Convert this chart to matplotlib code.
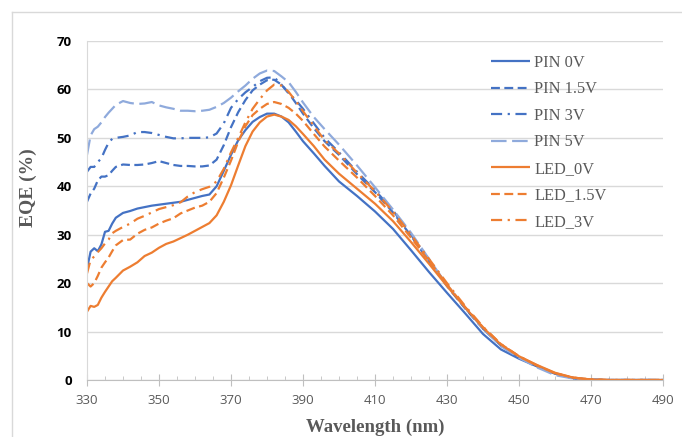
import matplotlib
matplotlib.use("Agg")
import matplotlib.pyplot as plt
from matplotlib.lines import Line2D

wavelength = [330, 331, 332, 333, 334, 335, 336, 337, 338, 340, 342, 344, 346, 348, 350,
              352, 354, 356, 358, 360, 362, 364, 366, 368, 370, 372, 374, 376, 378, 380,
              382, 384, 386, 388, 390, 393, 396, 400, 405, 410, 415, 420, 425, 430, 435,
              440, 445, 450, 455, 460, 465, 470, 475, 480, 490]

pin_0v = [23.0, 26.5, 27.2, 26.6, 28.0, 30.6, 30.8, 32.3, 33.5, 34.5, 34.9, 35.4, 35.7, 36.0, 36.2,
          36.4, 36.6, 36.8, 37.2, 37.6, 38.0, 38.3, 40.0, 43.2, 46.5, 49.5, 51.6, 53.3, 54.3, 55.0,
          55.0, 54.4, 53.2, 51.3, 49.3, 46.8, 44.2, 41.0, 38.0, 34.8, 31.2, 26.8, 22.3, 18.0, 13.8,
          9.5, 6.3, 4.4, 2.8, 1.3, 0.4, 0.05, 0, 0, 0]

pin_1_5v = [36.8, 38.5, 39.5, 41.2, 42.0, 42.0, 42.3, 43.2, 44.0, 44.5, 44.4, 44.4, 44.5, 44.8, 45.2,
            44.8, 44.4, 44.2, 44.2, 44.1, 44.1, 44.3, 45.5, 48.5, 52.2, 55.3, 57.8, 59.8, 61.0, 61.9,
            62.0, 61.0, 59.3, 57.2, 55.0, 52.0, 49.3, 46.5, 42.5, 38.8, 34.6, 29.8, 24.5, 19.4, 14.8,
            10.6, 7.1, 4.7, 2.9, 1.3, 0.4, 0.05, 0, 0, 0]

pin_3v = [43.0, 44.0, 44.0, 45.0, 45.8, 47.5, 49.0, 49.8, 50.0, 50.2, 50.5, 51.2, 51.2, 51.0, 50.6,
          50.2, 49.9, 49.9, 50.0, 50.0, 50.0, 50.1, 50.9, 53.0, 56.2, 58.0, 59.4, 60.5, 61.7, 62.4,
          62.5, 61.0, 59.2, 57.8, 56.0, 53.0, 50.0, 47.0, 43.0, 39.2, 35.0, 30.0, 24.8, 19.5, 14.9,
          10.6, 7.1, 4.7, 2.9, 1.3, 0.4, 0.05, 0, 0, 0]

pin_5v = [46.5, 50.5, 51.8, 52.3, 53.2, 54.3, 55.2, 56.0, 56.8, 57.6, 57.2, 57.0, 57.1, 57.4, 56.7,
          56.3, 56.0, 55.6, 55.6, 55.5, 55.6, 55.8, 56.4, 57.2, 58.3, 59.6, 60.8, 62.2, 63.3, 63.9,
          63.8, 62.7, 61.5, 59.5, 57.3, 54.3, 51.8, 48.6, 44.3, 39.8, 35.2, 30.4, 25.0, 19.6, 15.0,
          10.6, 7.0, 4.6, 2.6, 1.0, 0.3, 0.0, 0, 0, 0]

led_0v = [14.1, 15.3, 15.1, 15.5, 17.0, 18.2, 19.3, 20.4, 21.1, 22.6, 23.4, 24.3, 25.6, 26.3, 27.3,
          28.1, 28.6, 29.3, 30.0, 30.8, 31.6, 32.4, 34.0, 36.8, 40.2, 44.3, 48.3, 51.3, 53.2, 54.4,
          54.8, 54.4, 53.7, 52.4, 50.8, 48.3, 45.5, 42.6, 39.5, 36.4, 32.8, 28.5, 24.0, 19.4, 15.0,
          10.8, 7.3, 4.9, 3.1, 1.5, 0.5, 0.1, 0, 0, 0]

led_1_5v = [20.0, 19.3, 20.0, 21.5, 23.2, 24.3, 25.3, 26.6, 27.8, 28.9, 29.0, 30.2, 31.0, 31.5, 32.3,
            32.9, 33.4, 34.4, 35.0, 35.6, 36.0, 36.8, 38.6, 41.8, 45.3, 49.2, 52.4, 54.7, 56.0, 57.0,
            57.4, 57.0, 56.2, 55.0, 53.5, 50.8, 48.2, 45.3, 41.8, 38.0, 34.0, 29.4, 24.6, 19.7, 15.1,
            10.9, 7.4, 4.9, 3.0, 1.4, 0.5, 0.1, 0, 0, 0]

led_3v = [22.0, 24.8, 25.5, 26.4, 27.2, 28.2, 29.0, 30.3, 30.8, 31.6, 32.3, 33.3, 33.9, 34.6, 35.3,
          35.7, 36.1, 36.7, 37.9, 38.8, 39.4, 39.9, 41.0, 43.6, 47.0, 50.0, 53.2, 56.0, 58.0, 59.8,
          61.0, 60.8, 59.5, 57.6, 55.5, 52.5, 49.5, 46.8, 42.8, 39.0, 34.8, 30.0, 25.0, 20.0, 15.3,
          11.0, 7.4, 4.9, 3.0, 1.4, 0.5, 0.1, 0, 0, 0]

series_names = ["PIN 0V", "PIN 1.5V", "PIN 3V", "PIN 5V", "LED_0V", "LED_1.5V", "LED_3V"]
x_ticks = [330, 350, 370, 390, 410, 430, 450, 470, 490]
y_ticks = [0, 10, 20, 30, 40, 50, 60, 70]

BLUE = "#4472C4"
LIGHT = "#8FAADC"
ORANGE = "#ED7D31"
GREY_TXT = "#595959"
GRID = "#D9D9D9"

dash = (0, (4, 2))
dashdot = (0, (5, 2.5, 1, 2.5))
longdash = (0, (7, 2.5))

styles = [
    (pin_0v, BLUE, "-"),
    (pin_1_5v, BLUE, dash),
    (pin_3v, BLUE, dashdot),
    (pin_5v, LIGHT, longdash),
    (led_0v, ORANGE, "-"),
    (led_1_5v, ORANGE, dash),
    (led_3v, ORANGE, dashdot),
]

fig = plt.figure(figsize=(6.82, 4.37), dpi=100)
ax = fig.add_axes([87 / 682, 1 - 380 / 437, (663 - 87) / 682, (380 - 41) / 437])

handles = []
for (vals, color, ls), name in zip(styles, series_names):
    ln, = ax.plot(wavelength, vals, color=color, linestyle=ls, linewidth=1.6, label=name,
                  solid_capstyle="butt", dash_capstyle="butt")
    handles.append(ln)

ax.set_xlim(330, 490)
ax.set_ylim(0, 70)
ax.set_xticks(x_ticks)
ax.set_xticks(list(range(330, 491, 5)), minor=True)
ax.set_yticks(y_ticks)
ax.yaxis.grid(True, color=GRID, linewidth=1.0)
ax.set_axisbelow(True)

for s in ["top", "right"]:
    ax.spines[s].set_visible(False)
ax.spines["left"].set_color(GRID)
ax.spines["bottom"].set_color("#BFBFBF")

ax.tick_params(axis="y", length=0, pad=11, labelsize=9.5, labelcolor="black")
for lab in ax.get_yticklabels():
    lab.set_fontweight("bold")
    lab.set_family("Open Sans")
ax.tick_params(axis="x", which="major", direction="inout", length=8, color="#BFBFBF",
               pad=6, labelsize=9.5, labelcolor=GREY_TXT)
ax.tick_params(axis="x", which="minor", direction="in", length=3, color="#BFBFBF")
for lab in ax.get_xticklabels():
    lab.set_family("Open Sans")

fig.text(375 / 682, 1 - 427 / 437, "Wavelength (nm)", ha="center", va="center",
         family="Liberation Serif", fontweight="bold", fontsize=13.5, color=GREY_TXT)
fig.text(28 / 682, 1 - 188 / 437, "EQE (%)", ha="center", va="center", rotation=90,
         family="Liberation Serif", fontweight="bold", fontsize=14, color=GREY_TXT)

leg = fig.legend(handles=handles, loc="upper left", bbox_to_anchor=(491 / 682, 1 - 55 / 437),
                 frameon=False, prop={"family": "Liberation Serif", "size": 11.8},
                 handlelength=2.4, handletextpad=0.25, labelspacing=0.64, borderpad=0,
                 borderaxespad=0)
for t in leg.get_texts():
    t.set_color(GREY_TXT)

fig.add_artist(Line2D([12 / 682, 1], [1 - 12 / 437, 1 - 12 / 437], transform=fig.transFigure,
                      color=GRID, linewidth=1))
fig.add_artist(Line2D([12 / 682, 12 / 682], [0, 1 - 12 / 437], transform=fig.transFigure,
                      color=GRID, linewidth=1))

fig.savefig("out.png", dpi=100)
